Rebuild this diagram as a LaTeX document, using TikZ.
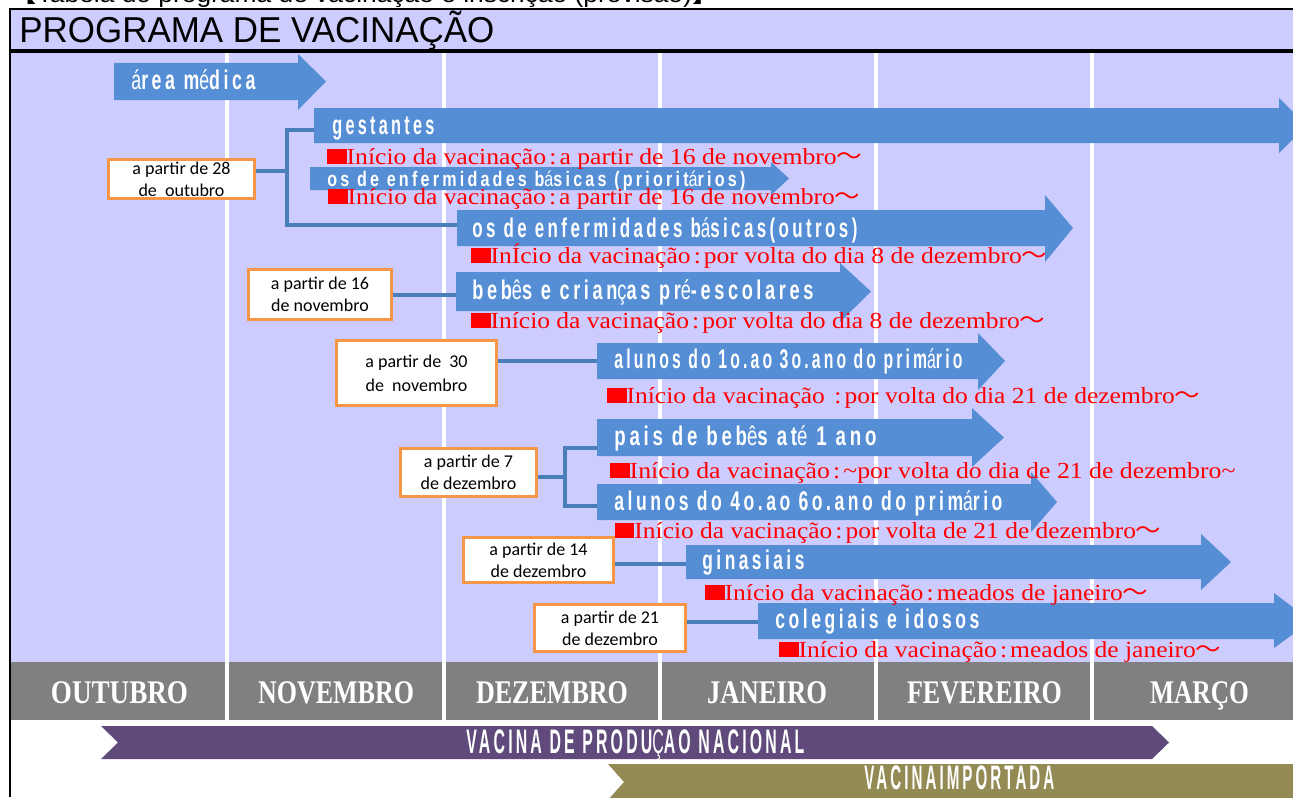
\documentclass[tikz,border=0pt]{standalone}
\usepackage{fontspec}
\usepackage{graphicx}
\setmainfont{Liberation Serif}
\newfontfamily\sansf{Liberation Sans}
\newfontfamily\arfont[LetterSpace=20]{Liberation Sans}
\newfontfamily\bxfont{Carlito}
\newfontfamily\cjk{Noto Sans CJK JP}
\newdimen\pxu \pxu=0.5pt
\newcommand\fw[2]{\resizebox{#1\pxu}{\height}{#2}}
\newcommand\wv{{\cjk 〜}}
\newcommand\cl{\kern0.12em:\kern0.12em}
\newcommand\sq{\rule{0.75em}{0.64em}}
\newcommand\lt[1]{{\mdseries #1}}
\definecolor{lav}{RGB}{204,204,255}
\definecolor{barc}{RGB}{85,142,213}
\definecolor{connc}{RGB}{74,126,187}
\definecolor{orng}{RGB}{247,150,70}
\definecolor{mgray}{RGB}{128,128,128}
\definecolor{purp}{RGB}{96,74,123}
\definecolor{oliv}{RGB}{148,138,84}
\newcommand\bararrow[7]{\fill[barc] (#1,#2) -- (#4,#2) -- (#4,#5) -- (#7,{(#2+#3)/2}) -- (#4,#6) -- (#4,#3) -- (#1,#3) -- cycle;}
\begin{document}
\begin{tikzpicture}[x=0.5pt,y=-0.5pt,
  artxt/.style={anchor=base west, inner sep=0, text=white, font=\arfont\bfseries\fontsize{13.5}{15}\selectfont},
  redtxt/.style={anchor=base west, inner sep=0, text=red, font=\fontsize{11.5}{13}\selectfont},
  obox/.style={draw=orng, line width=1.5pt, fill=white, inner sep=0, align=center, font=\bxfont\fontsize{9}{11}\selectfont},
  conn/.style={draw=connc, line width=2pt},
  mtxt/.style={anchor=base, inner sep=0, text=white, font=\bfseries\fontsize{16.5}{18}\selectfont},
  btxt/.style={anchor=base west, inner sep=0, text=white, font=\arfont\bfseries\fontsize{17}{19}\selectfont}]
\useasboundingbox (0,0) rectangle (1293,797);
\clip (0,0) rectangle (1293,797);
\fill[white] (0,0) rectangle (1293,797);
% top caption (cut)
\node[anchor=base west, inner sep=0] (toptxt) at (10,3) {\sansf\fontsize{12}{14}\selectfont\fw{708}{{\cjk 【}Tabela do programa de vacinação e inscrição (provisão){\cjk 】}}};
% backgrounds
\fill[lav] (10,10) rectangle (1293,662);
\fill[black] (10,49.5) rectangle (1293,53);
\fill[mgray] (10,662) rectangle (1293,720);
\foreach \x in {227,444,660,876,1092} \draw[white, line width=2pt] (\x,53) -- (\x,720);
\draw[line width=1pt] (10,797) -- (10,9) -- (1293,9);
% title
\node[anchor=base west, inner sep=0] (title) at (19,43) {\sansf\fontsize{18}{20}\selectfont\fw{475}{PROGRAMA DE VACINAÇÃO}};
% coordinates of bar starts
\coordinate (gestL) at (314,130);
\coordinate (outL) at (457,225);
\coordinate (jA) at (287,171);
\coordinate (bebL) at (456,295);
\coordinate (aluAL) at (597,361);
\coordinate (paisL) at (597,448);
\coordinate (aluBL) at (597,506);
\coordinate (jD) at (565,477);
\coordinate (ginL) at (686,564);
\coordinate (colL) at (758,622);
% boxes
\node[obox, minimum width=73pt, minimum height=19.5pt] (bA) at (181.5,179) {a partir de 28\\de\ \ outubro};
\node[obox, minimum width=71.5pt, minimum height=25pt] (bB) at (320,294.5) {a partir de 16\\de novembro};
\node[obox, minimum width=80pt, minimum height=32.5pt, font=\bxfont\fontsize{9}{12}\selectfont] (bC) at (416.5,373) {a partir de\ \ 30\\de\ \ novembro};
\node[obox, minimum width=68pt, minimum height=24pt] (bD) at (468.5,472.5) {a partir de 7\\de dezembro};
\node[obox, minimum width=75pt, minimum height=22.5pt] (bE) at (538.5,560) {a partir de 14\\de dezembro};
\node[obox, minimum width=75.5pt, minimum height=23.5pt] (bF) at (610,628) {a partir de 21\\de dezembro};
% connectors
\draw[conn] (bA.east |- jA) -- (jA);
\draw[conn] (gestL) -| (jA) |- (outL);
\draw[conn] (bB.east |- bebL) -- (bebL);
\draw[conn] (bC.east |- aluAL) -- (aluAL);
\draw[conn] (bD.east |- jD) -- (jD);
\draw[conn] (paisL) -| (jD) |- (aluBL);
\draw[conn] (bE.east |- ginL) -- (ginL);
\draw[conn] (bF.east |- colL) -- (colL);
% bars
\bararrow{114}{63}{100}{298}{54}{110}{326}
\bararrow{314}{108}{143}{1279}{98}{153}{1307}
\bararrow{310}{167}{190}{771}{162}{195}{789}
\bararrow{457}{210}{246}{1045}{195}{262}{1073}
\bararrow{456}{272}{311}{840}{263}{322}{871}
\bararrow{597}{343}{379}{978}{333}{390}{1005}
\bararrow{597}{419}{456}{972}{408}{467}{1004}
\bararrow{597}{484}{520}{1031}{472}{532}{1057}
\bararrow{686}{545}{579}{1201}{534}{590}{1231}
\bararrow{758}{603}{639}{1274}{593}{648}{1311}
% bar texts
\node[artxt] (t1) at (131,90) {\fw{124}{\lt{á}rea m\lt{é}dica}};
\node[artxt] (t2) at (332,134) {\fw{102}{gestantes}};
\node[artxt, font=\arfont\bfseries\fontsize{10.5}{12}\selectfont] (t3) at (327,186) {\fw{418}{os de enfermidades b\lt{á}sicas (priorit\lt{á}rios)}};
\node[artxt] (t4) at (472,237) {\fw{385}{os de enfermidades b\lt{á}sicas(outros)}};
\node[artxt] (t5) at (472,299) {\fw{341}{beb\lt{ê}s e crian\lt{ç}as pr\lt{é}-escolares}};
\node[artxt] (t6) at (614,368) {\fw{348}{alunos do 1o.ao 3o.ano do prim\lt{á}rio}};
\node[artxt] (t7) at (614,445) {\fw{262}{pais de beb\lt{ê}s at\lt{é} 1 ano}};
\node[artxt] (t8) at (614,510) {\fw{388}{alunos do 4o.ao 6o.ano do prim\lt{á}rio}};
\node[artxt] (t9) at (702,569) {\fw{102}{ginasiais}};
\node[artxt] (t10) at (775,628) {\fw{204}{colegiais e idosos}};
% red texts
\node[redtxt] (r1) at (327,164) {\fw{535}{\sq Início da vacinação\cl a partir de 16 de novembro\wv}};
\node[redtxt] (r2) at (328,204) {\fw{532}{\sq Início da vacinação\cl a partir de 16 de novembro\wv}};
\node[redtxt] (r3) at (471,263) {\fw{576}{\sq InÍcio da vacinação\cl por volta do dia 8 de dezembro\wv}};
\node[redtxt] (r4) at (471,328) {\fw{574}{\sq Início da vacinação\cl por volta do dia 8 de dezembro\wv}};
\node[redtxt] (r5) at (607,403) {\fw{593}{\sq Início da vacinação \cl por volta do dia 21 de dezembro\wv}};
\node[redtxt] (r6) at (610,478) {\fw{625}{\sq Início da vacinação\cl\textasciitilde por volta do dia de 21 de dezembro\textasciitilde}};
\node[redtxt] (r7) at (615,538) {\fw{546}{\sq Início da vacinação\cl por volta de 21 de dezembro\wv}};
\node[redtxt] (r8) at (705,600) {\fw{443}{\sq Início da vacinação\cl meados de janeiro\wv}};
\node[redtxt] (r9) at (779,657) {\fw{442}{\sq Início da vacinação\cl meados de janeiro\wv}};
% months
\node[mtxt] (m1) at (119.5,703) {\fw{137}{OUTUBRO}};
\node[mtxt] (m2) at (336,703) {\fw{156}{NOVEMBRO}};
\node[mtxt] (m3) at (552,703) {\fw{152}{DEZEMBRO}};
\node[mtxt] (m4) at (767,703) {\fw{120}{JANEIRO}};
\node[mtxt] (m5) at (984.5,703) {\fw{155}{FEVEREIRO}};
\node[mtxt] (m6) at (1199.5,703) {\fw{99}{MARÇO}};
% vaccine bars
\fill[purp] (101,726) -- (1152,726) -- (1169,742.5) -- (1152,759) -- (101,759) -- (118,742.5) -- cycle;
\fill[oliv] (608,764) -- (1300,764) -- (1300,800) -- (608,800) -- (624,782) -- cycle;
\node[btxt] (v1) at (466,753) {\fw{338}{VACINA DE PRODU\lt{Ç}AO NACIONAL}};
\node[btxt] (v2) at (864,789) {\fw{190}{VACINAIMPORTADA}};
\end{tikzpicture}
\end{document}
